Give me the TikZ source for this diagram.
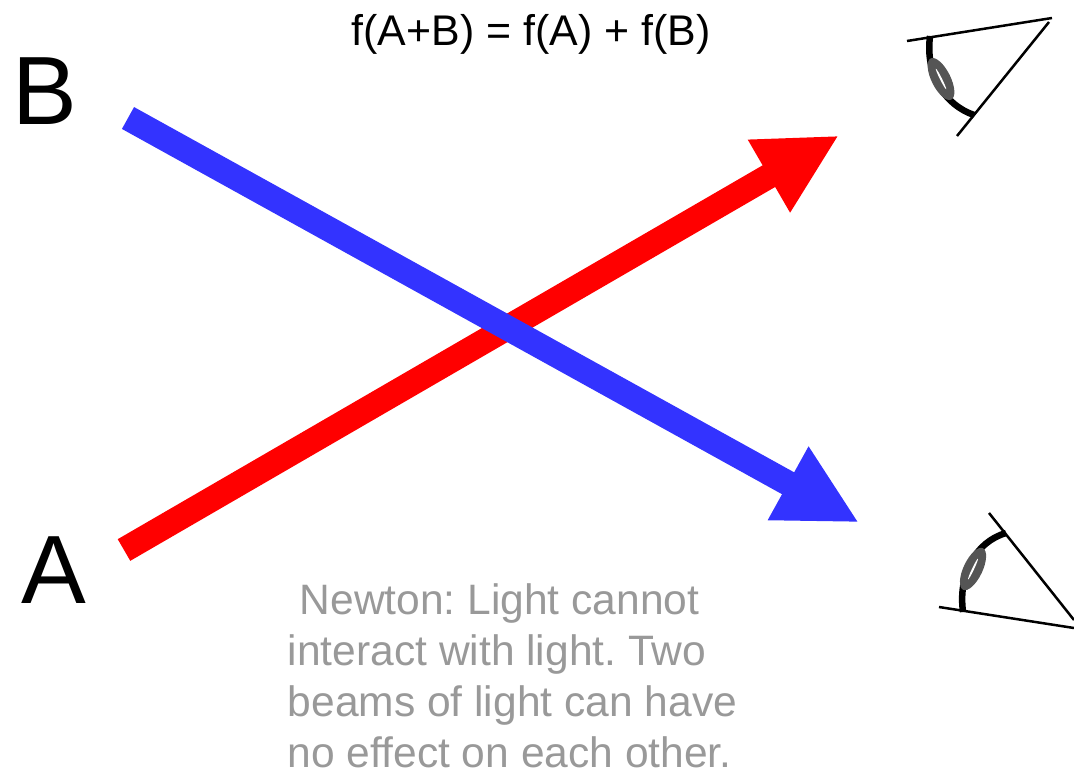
\documentclass[tikz,border=0pt]{standalone}
\usepackage{fontspec}
\setmainfont[Ligatures=CommonOff]{Liberation Sans}
\usetikzlibrary{arrows.meta,shapes.geometric}
\definecolor{vred}{HTML}{FF0000}
\definecolor{vblue}{HTML}{3333FF}
\definecolor{vgray}{HTML}{999999}
\definecolor{vlens}{HTML}{555555}
\tikzset{
  beam/.style={-{Triangle[length=0.81cm,width=0.78cm]},line width=0.25cm},
  big/.style={font=\fontsize{27.6}{32}\selectfont,inner sep=0pt,anchor=base west},
  formula/.style={font=\fontsize{12.2}{15}\selectfont,inner sep=0pt,anchor=base west},
  note/.style={font=\fontsize{12.1}{14.5}\selectfont,text=vgray,align=left,inner sep=0pt,anchor=north west},
  ray/.style={black,line width=0.025cm},
  retina/.style={black,line width=0.065cm},
  lens/.style={ellipse,fill=vlens,inner sep=0pt,minimum width=0.46cm,minimum height=0.19cm},
  glint/.style={ellipse,fill=white,inner sep=0pt,minimum width=0.23cm,minimum height=0.02cm},
}
\begin{document}
\begin{tikzpicture}[x=0.01cm,y=-0.01cm]
  \frenchspacing
  \useasboundingbox (0,0) rectangle (1074,773);
  \node[big] (B) at (12,125) {B};
  \node[big] (A) at (21,603) {A};
  \node[formula] (f) at (351,46) {f(A+B) = f(A) + f(B)};
  \node[note] (n) at (287,583) {\hspace*{3.4pt}Newton: Light cannot\\interact with light. Two\\beams of light can have\\no effect on each other.};
  % beams
  \coordinate (rs) at (124,550);
  \coordinate (rt) at (839,135.5);
  \coordinate (bs) at (128,118);
  \coordinate (bt) at (859,522.5);
  \draw[beam,vred] (rs) -- (rt);
  \draw[beam,vblue] (bs) -- (bt);
  % upper eye
  \draw[ray] (907,41) -- (1052,18);
  \draw[ray] (1049,22) -- (957,136);
  \draw[retina] (930,36) .. controls (925,75) and (945,105) .. (974,115);
  \node[lens,rotate=-63.4] (l1) at (941,79) {};
  \node[glint,rotate=-63.4] (g1) at (941,79) {};
  % lower eye
  \draw[ray] (939,607) -- (1074,628);
  \draw[ray] (989,513) -- (1074,620);
  \draw[retina] (1006,533) .. controls (975,542) and (958,575) .. (963,612);
  \node[lens,rotate=64.6] (l2) at (973,569) {};
  \node[glint,rotate=64.6] (g2) at (973,569) {};
\end{tikzpicture}
\end{document}
